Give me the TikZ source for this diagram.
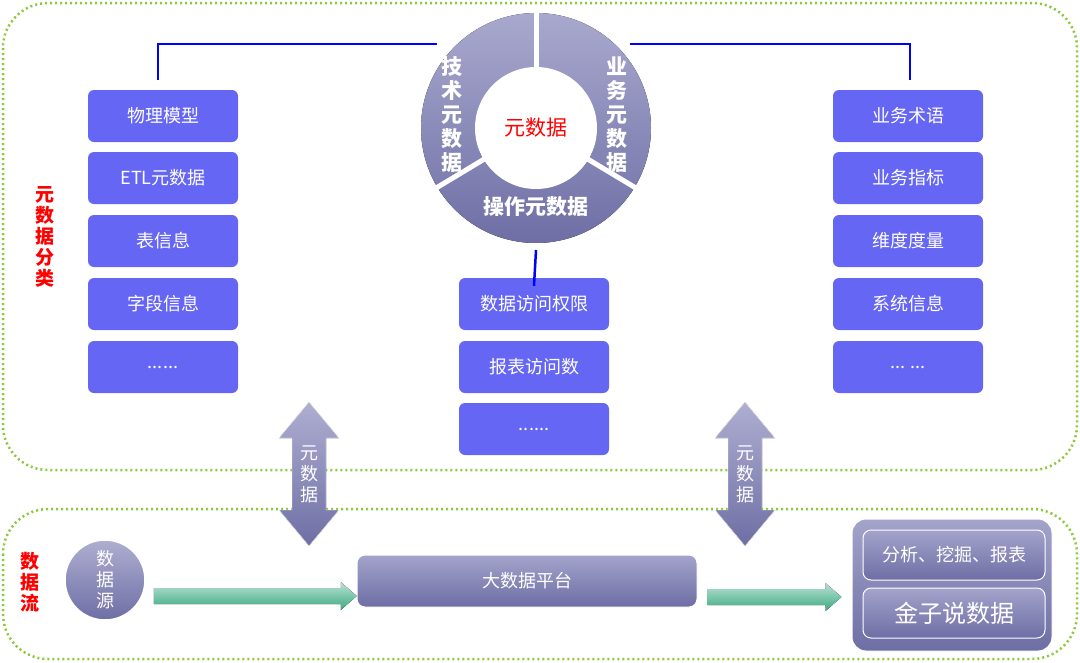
\documentclass[tikz,border=0pt]{standalone}
\usepackage{fontspec}
\setmainfont{Noto Sans CJK SC}
\definecolor{dotg}{RGB}{140,200,60}
\definecolor{bbox}{RGB}{102,102,245}
\definecolor{lav}{RGB}{140,140,190}
\definecolor{lavd}{RGB}{110,110,165}
\definecolor{grn}{RGB}{60,170,130}
\begin{document}
\begin{tikzpicture}[x=1pt,y=-1pt,
  frame/.style={draw=dotg,line width=2.5pt,dash pattern=on 2pt off 3pt,rounded corners=45pt},
  bx/.style={fill=bbox,rounded corners=6pt,minimum width=150pt,minimum height=52pt,text=white,font=\fontsize{18}{18}\selectfont},
  lv/.style={top color=lav!80,bottom color=lavd,draw=white,line width=1pt,rounded corners=8pt,text=white,font=\fontsize{18}{18}\selectfont},
  bl/.style={draw=blue,line width=2.5pt},
  red/.style={text=red,font=\bfseries\fontsize{19}{21}\selectfont,align=center},
  vt/.style={text=white,font=\bfseries\fontsize{21}{24}\selectfont,align=center},
  garrow/.style={top color=grn!35,bottom color=grn,draw=none}]
\useasboundingbox (0,0) rectangle (1080,662);
\draw[frame] (3,3) rectangle (1077,470);
\draw[frame] (3,509) rectangle (1077,659);
\node[red] (l1) at (45,237) {元\\数\\据\\分\\类};
\node[red] (l2) at (30,582) {数\\据\\流};
\foreach \t/\y [count=\i] in {物理模型/116,ETL元数据/178,表信息/241,字段信息/304,{......}/367}
  \node[bx] (a\i) at (163,\y) {\t};
\foreach \t/\y [count=\i] in {业务术语/116,业务指标/178,维度度量/241,系统信息/304,{... ...}/367}
  \node[bx] (c\i) at (908,\y) {\t};
\foreach \t/\y [count=\i] in {数据访问权限/304,报表访问数/367,{......}/429}
  \node[bx] (b\i) at (534,\y) {\t};
% ring
\coordinate (o) at (536,128);
\fill[top color=lav!75,bottom color=lavd] (o) circle (115);
\fill[white] (o) circle (61);
\foreach \a in {-90,31,149} \draw[white,line width=5pt] (o) ++(\a:58) -- ++(\a:60);
\node[vt] (t1) at (452,115) {技\\术\\元\\数\\据};
\node[vt] (t2) at (617,115) {业\\务\\元\\数\\据};
\node[vt] (t3) at (536,207) {操作元数据};
\node[text=red,font=\fontsize{21}{21}\selectfont] (t0) at (o) {元数据};
\coordinate (lt) at (437,44); \coordinate (rt) at (630,44);
\coordinate (la) at (158,80); \coordinate (ra) at (910,80);
\draw[bl] (la) |- (lt);
\draw[bl] (rt) -| (ra);
\coordinate (rb) at (536,250);
\draw[bl] (rb) -- ([yshift=-8pt]b1.north);
% double arrows
\foreach \x/\n in {309/d1,745/d2}{
  \fill[top color=lav!70,bottom color=lavd,draw=white]
    (\x,402) -- (\x+30,438) -- (\x+17,438) -- (\x+17,510) -- (\x+30,510) -- (\x,546) -- (\x-30,510) -- (\x-17,510) -- (\x-17,438) -- (\x-30,438) -- cycle;
  \node[vt,font=\fontsize{18}{21}\selectfont] (\n) at (\x,474) {元\\数\\据};
}
% data flow
\node[circle,minimum size=80pt,top color=lav!70,bottom color=lavd,draw=white,line width=1.5pt,text=white,font=\fontsize{18}{21}\selectfont,align=center] (src) at (105,580) {数\\据\\源};
\node[lv,minimum width=340pt,minimum height=52pt] (plat) at (527,581) {大数据平台};
\node[lv,rounded corners=14pt,minimum width=200pt,minimum height=132pt] (out) at (952,585) {};
\node[lv,minimum width=182pt,minimum height=50pt] (o1) at (954,555) {分析、挖掘、报表};
\node[lv,minimum width=182pt,minimum height=50pt,font=\fontsize{24}{24}\selectfont] (o2) at (954,613) {金子说数据};
\fill[garrow] ([xshift=8pt,yshift=-8pt]src.east) -- ++(187,0) -- ++(0,-6) -- ++(16,14) -- ++(-16,14) -- ++(0,-6) -- ++(-187,0) -- cycle;
\fill[garrow] ([xshift=10pt,yshift=-8pt]plat.east) -- ++(118,0) -- ++(0,-6) -- ++(16,14) -- ++(-16,14) -- ++(0,-6) -- ++(-118,0) -- cycle;
\end{tikzpicture}
\end{document}
